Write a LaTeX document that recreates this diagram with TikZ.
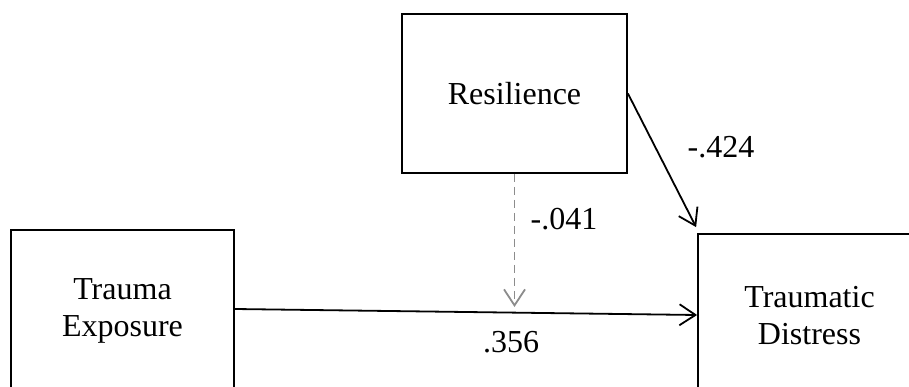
\documentclass[tikz,border=0pt]{standalone}
\usepackage{fontspec}
\setmainfont{Liberation Serif}
\usetikzlibrary{arrows.meta}
\begin{document}
\begin{tikzpicture}[x=1pt,y=-1pt,
  varbox/.style={draw, line width=1.8pt, rectangle, inner sep=0pt, align=center,
    font=\fontsize{32}{37}\selectfont},
  coef/.style={inner sep=0pt, font=\fontsize{32}{37}\selectfont},
  path/.style={line width=1.8pt, -{Straight Barb[length=16pt,width=21pt,line width=1.8pt]}},
  modpath/.style={path, draw=gray!90, dash pattern=on 8pt off 5pt}]
  \useasboundingbox (0,0) rectangle (909,387);
  \clip (0,0) rectangle (909,387);

  % variables
  \node[varbox, minimum width=225pt, minimum height=159pt] (res) at (514.5,93.5) {Resilience};
  \node[varbox, minimum width=223pt, minimum height=162pt] (te) at (122.5,311) {Trauma\\Exposure};
  \node[varbox, minimum width=223pt, minimum height=164pt] (td) at (809.5,316) {Traumatic\\Distress};

  % moderation target on the main path
  \coordinate (m) at (514.5,307);

  % paths
  \draw[path] ([yshift=2pt]te.east) -- ([yshift=1pt]td.west);
  \draw[path] (res.east) -- ([xshift=-1pt,yshift=6pt]td.north west);
  \draw[modpath] (res.south) -- (m);

  % coefficients
  \node[coef] (c1) at (511,342.5) {.356};
  \node[coef] (c2) at (564,219.5) {-.041};
  \node[coef] (c3) at (721,147) {-.424};
\end{tikzpicture}
\end{document}
